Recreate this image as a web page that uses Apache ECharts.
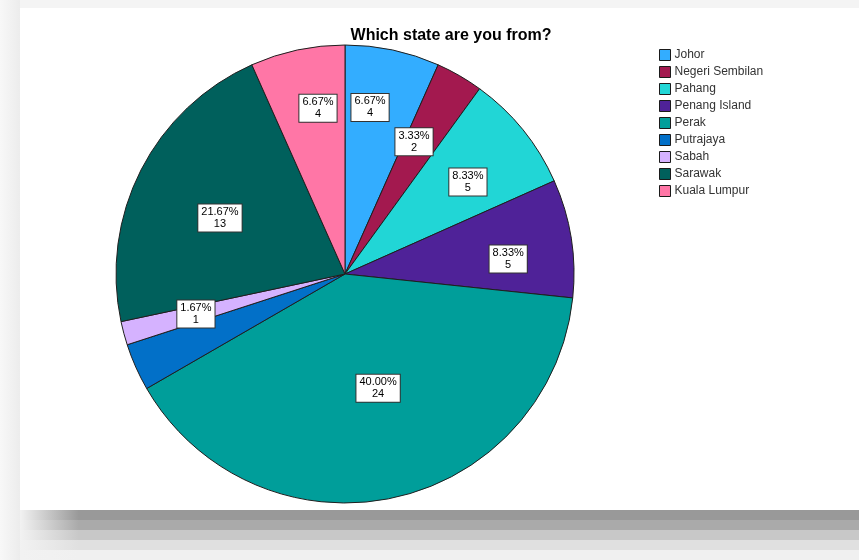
<!DOCTYPE html>
<html>
<head>
<meta charset="utf-8">
<script src="https://cdn.jsdelivr.net/npm/echarts@6/dist/echarts.min.js"></script>
<style>
  html, body { margin: 0; padding: 0; background: #ffffff; }
  #chart { width: 859px; height: 560px; }
</style>
</head>
<body>
<div id="chart"></div>
<script>
// Survey answers: which state respondents come from
const states = ['Johor', 'Negeri Sembilan', 'Pahang', 'Penang Island', 'Perak', 'Putrajaya', 'Sabah', 'Sarawak', 'Kuala Lumpur'];
const counts = [4, 2, 5, 5, 24, 2, 1, 13, 4];
const sliceColors = ['#33adff', '#a3194f', '#21d6d6', '#4f2298', '#009e9a', '#0270c8', '#d5b2ff', '#00605c', '#ff76a6'];
// Slices whose value box is left out
const hiddenLabels = ['Putrajaya'];
// Placement of each value box: share of the pie radius, and turn (degrees, clockwise) from the slice's middle
const labelRadius = [0.74, 0.655, 0.673, 0.716, 0.515, 0.6, 0.673, 0.6, 0.738];
const labelTurn = [-3.5, -2.6, 1.9, 3.4, -4.3, 0, 0.3, -2.5, 2.8];

const total = counts.reduce((a, b) => a + b, 0);
const pieCenter = [345, 274];
const pieRadius = 229;

// middle of each slice, degrees clockwise from 12 o'clock
const midAngles = [];
counts.reduce((acc, v) => { midAngles.push((acc + v / 2) / total * 360); return acc + v; }, 0);

const chart = echarts.init(document.getElementById('chart'), null, { renderer: 'canvas' });

// Frame: light border with a gray shadow band under the white panel
const shadowBands = ['#999999', '#aaaaaa', '#c8c8c8', '#e0e0e0', '#f0f0f0'];
const graphics = [
  { type: 'rect', silent: true, z: -10, shape: { x: 0, y: 0, width: 859, height: 560 }, style: { fill: '#f4f4f4' } },
  { type: 'rect', silent: true, z: -9, shape: { x: 0, y: 0, width: 20, height: 560 },
    style: { fill: new echarts.graphic.LinearGradient(0, 0, 1, 0, [{ offset: 0, color: '#f8f8f8' }, { offset: 1, color: '#ececec' }]) } }
];
shadowBands.forEach((c, i) => {
  graphics.push({
    type: 'rect', silent: true, z: -8,
    shape: { x: 20, y: 510 + i * 10, width: 839, height: 10 },
    style: { fill: new echarts.graphic.LinearGradient(0, 0, 1, 0, [
      { offset: 0, color: '#f2f2f2' }, { offset: 0.07, color: c }, { offset: 1, color: c }]) }
  });
});
graphics.push({ type: 'rect', silent: true, z: -7, shape: { x: 20, y: 8, width: 839, height: 502 }, style: { fill: '#ffffff' } });

const option = {
  backgroundColor: '#ffffff',
  animation: false,
  graphic: graphics,
  title: {
    text: 'Which state are you from?',
    left: 446, top: 23, textAlign: 'center',
    textStyle: { fontFamily: 'Liberation Sans, Arial, sans-serif', fontSize: 16, fontWeight: 'bold', color: '#000000' }
  },
  legend: {
    orient: 'vertical',
    left: 654, top: 44,
    itemWidth: 11, itemHeight: 11, itemGap: 5,
    icon: 'rect',
    itemStyle: { borderColor: '#1a1a1a', borderWidth: 1 },
    textStyle: { fontFamily: 'Liberation Sans, Arial, sans-serif', fontSize: 12, color: '#333333', padding: [0, 0, 0, -1] },
    data: states
  },
  series: [{
    type: 'pie',
    center: pieCenter,
    radius: pieRadius,
    startAngle: 90,
    clockwise: true,
    avoidLabelOverlap: false,
    color: sliceColors,
    itemStyle: { borderColor: '#1f1f1f', borderWidth: 1 },
    label: {
      show: true,
      position: 'inside',
      formatter: p => (p.value / total * 100).toFixed(2) + '%\n' + p.value,
      fontFamily: 'Liberation Sans, Arial, sans-serif',
      fontSize: 11,
      lineHeight: 12,
      color: '#000000',
      backgroundColor: '#ffffff',
      borderColor: '#333333',
      borderWidth: 1,
      padding: [2, 3, 1, 3]
    },
    labelLine: { show: false },
    labelLayout: params => {
      const i = params.dataIndex;
      const a = (midAngles[i] + labelTurn[i]) * Math.PI / 180;
      const r = labelRadius[i] * pieRadius;
      return {
        x: pieCenter[0] + r * Math.sin(a),
        y: pieCenter[1] - r * Math.cos(a) + 1,
        align: 'center',
        verticalAlign: 'middle'
      };
    },
    data: states.map((s, i) => ({
      name: s,
      value: counts[i],
      label: { show: hiddenLabels.indexOf(s) < 0 }
    }))
  }]
};

chart.setOption(option);
</script>
</body>
</html>
